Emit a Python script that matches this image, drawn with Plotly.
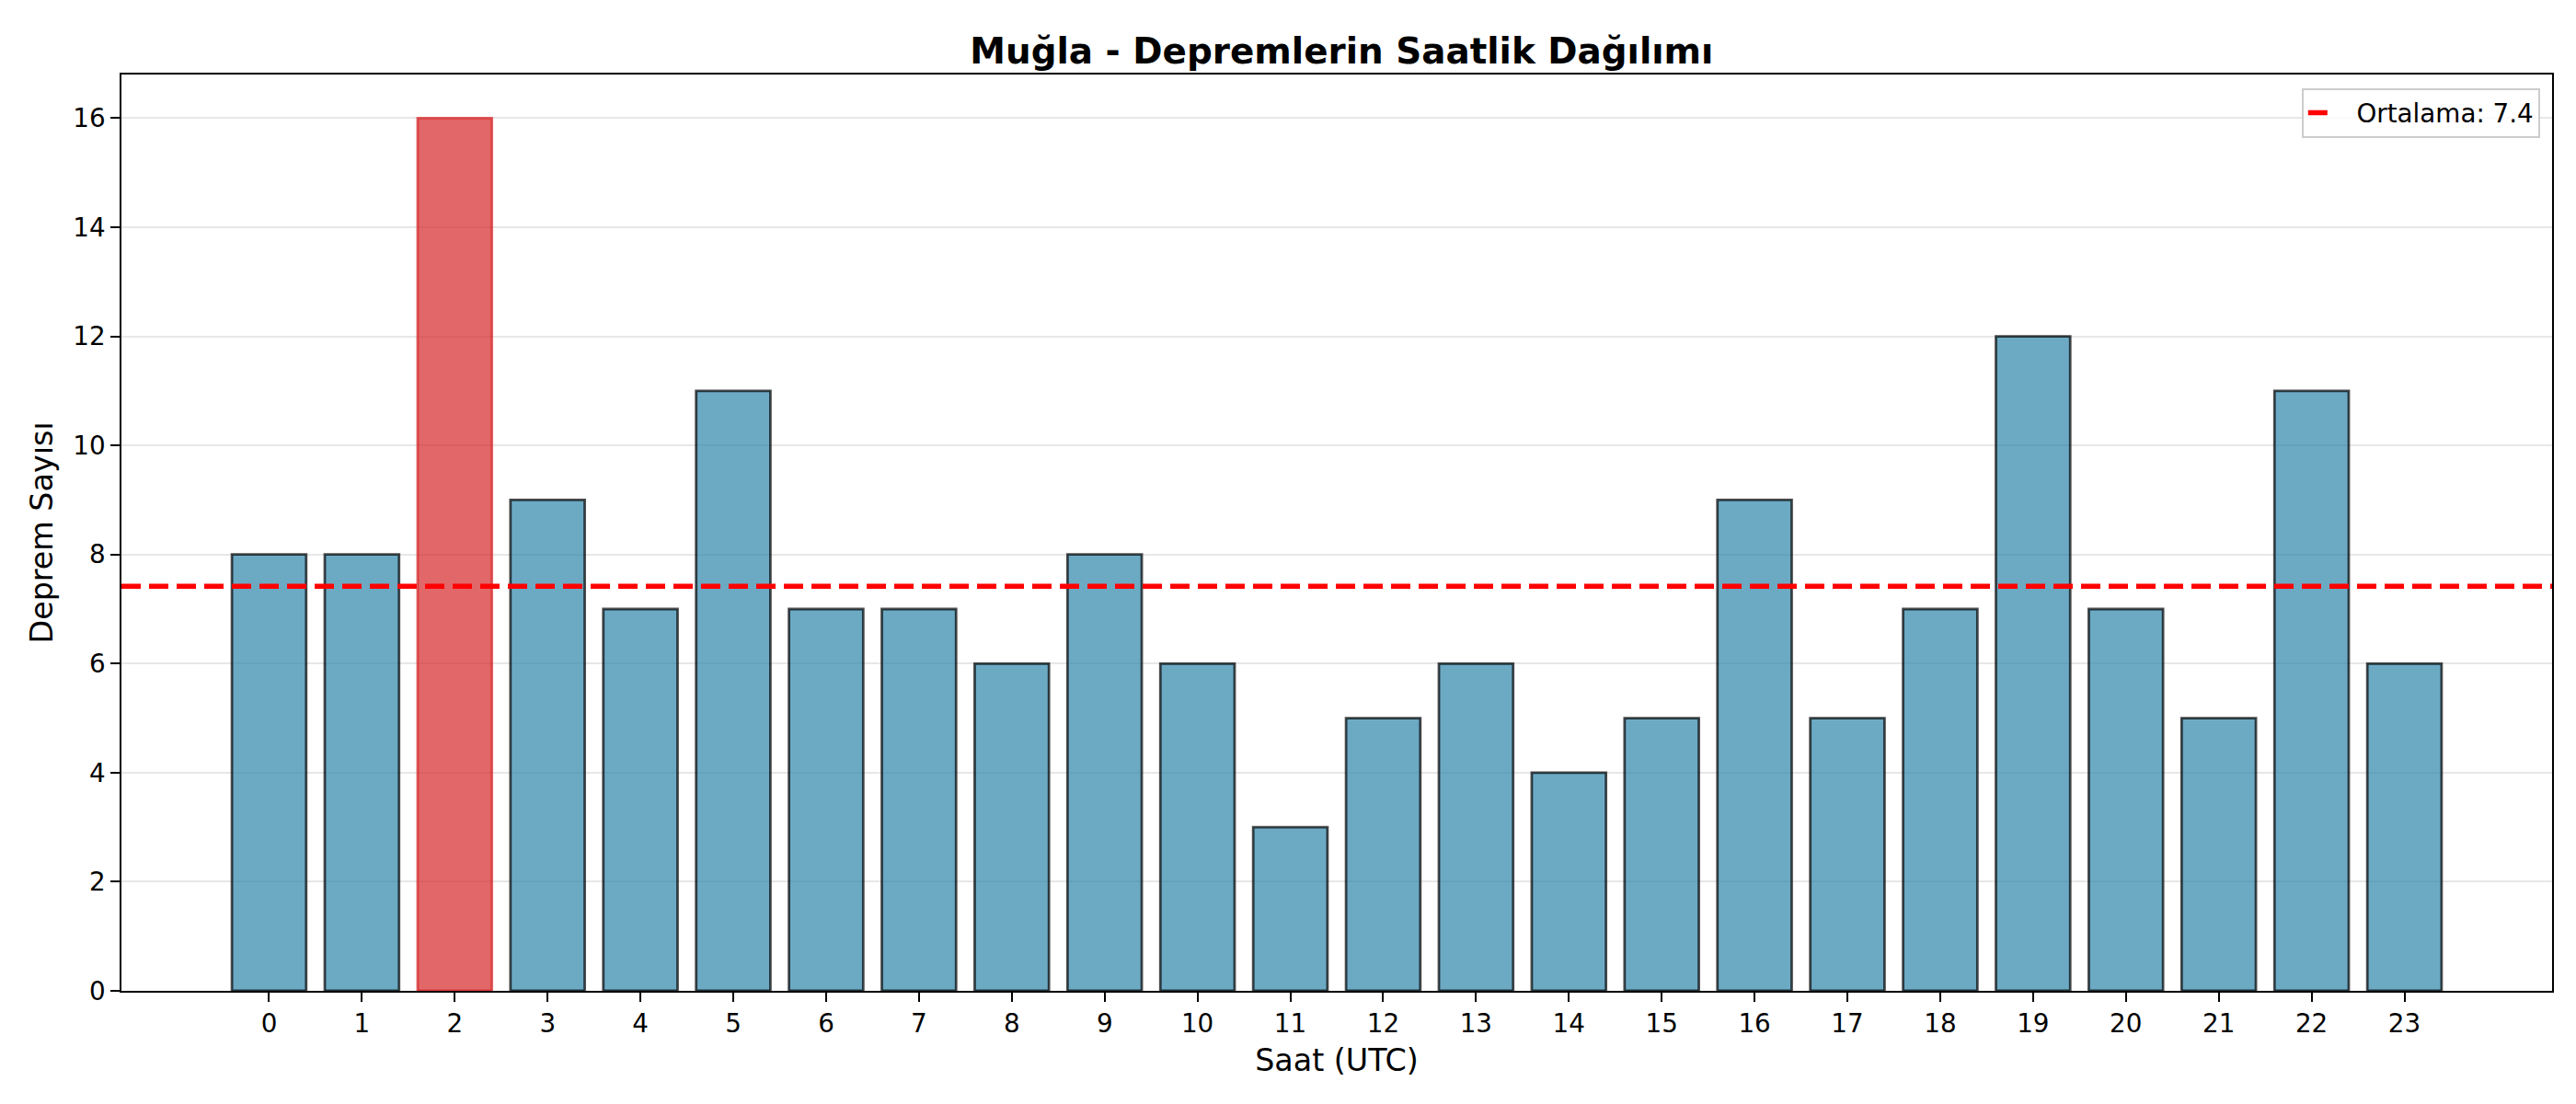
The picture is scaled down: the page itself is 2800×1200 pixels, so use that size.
import plotly.graph_objects as go

# Saatlik deprem sayilari (Muğla)
saatler = list(range(24))
deprem_sayilari = [8, 8, 16, 9, 7, 11, 7, 7, 6, 8, 6, 3, 5, 6, 4, 5, 9, 5, 7, 12, 7, 5, 11, 6]
etiketler = [str(s) for s in saatler]

ortalama = sum(deprem_sayilari) / len(deprem_sayilari)
en_yogun = deprem_sayilari.index(max(deprem_sayilari))

MAVI = "rgba(46,134,171,0.7)"
KIRMIZI = "rgba(214,39,40,0.7)"
PT = 200 / 72  # matplotlib pt -> px (dpi 200)

renkler = [KIRMIZI if i == en_yogun else MAVI for i in saatler]
kenarlar = ["rgba(214,39,40,0.7)" if i == en_yogun else "rgba(0,0,0,0.7)" for i in saatler]

fig = go.Figure()
fig.add_trace(go.Bar(
    x=saatler, y=deprem_sayilari, width=0.8,
    marker=dict(color=renkler, line=dict(color=kenarlar, width=1 * PT)),
    showlegend=False,
))

# ortalama cizgisi (axhline gibi)
fig.add_shape(type="line", xref="x domain", yref="y", x0=0, x1=1, y0=ortalama, y1=ortalama,
              line=dict(color="red", width=2 * PT, dash="21px,9px"))
fig.add_trace(go.Scatter(x=[None], y=[None], mode="lines", name=f"  Ortalama: {ortalama:.1f}",
                         line=dict(color="red", width=2 * PT, dash="21px,9px")))

n = len(saatler)
pad = 0.05 * (n - 1 + 0.8)
fig.update_layout(
    width=2800, height=1200,
    paper_bgcolor="white", plot_bgcolor="white",
    margin=dict(l=124, r=34, t=73, b=131),
    font=dict(family="DejaVu Sans", size=10 * PT, color="black"),
    title=dict(text="<b>Muğla - Depremlerin Saatlik Dağılımı</b>", x=0.518, xanchor="center",
               y=1 - 47 / 1200, yanchor="middle", font=dict(size=14 * PT)),
    legend=dict(x=0.995, y=0.985, xanchor="right", yanchor="top",
                bgcolor="rgba(255,255,255,0.8)", bordercolor="#cccccc", borderwidth=2,
                font=dict(size=10 * PT)),
    bargap=0.2,
)
fig.update_xaxes(
    range=[-0.4 - pad, n - 1 + 0.4 + pad],
    tickmode="array", tickvals=saatler, ticktext=etiketler,
    ticks="outside", ticklen=3.5 * PT, tickwidth=0.8 * PT, tickcolor="black",
    showline=True, linecolor="black", linewidth=0.8 * PT, mirror=True,
    showgrid=False, zeroline=False,
    title=dict(text="Saat (UTC)", font=dict(size=12 * PT), standoff=12),
)
fig.update_yaxes(
    range=[0, max(deprem_sayilari) * 1.05], dtick=2,
    ticks="outside", ticklen=3.5 * PT, tickwidth=0.8 * PT, tickcolor="black",
    showline=True, linecolor="black", linewidth=0.8 * PT, mirror=True,
    showgrid=True, gridcolor="rgba(176,176,176,0.3)", gridwidth=0.8 * PT, zeroline=False,
    title=dict(text="Deprem Sayısı", font=dict(size=12 * PT), standoff=12),
)

fig.write_html("out.html")
